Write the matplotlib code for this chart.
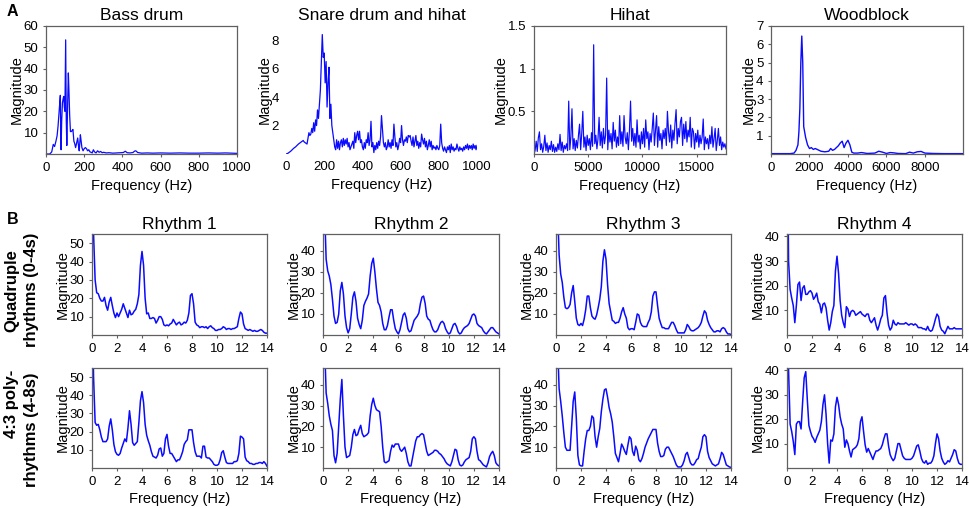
"""Spectra of the drum sounds (A) and of the four rhythms (B)."""

import matplotlib

matplotlib.use("Agg")
import matplotlib.pyplot as plt
import numpy as np

plt.rcParams["font.family"] = ["Liberation Sans", "DejaVu Sans"]

# ---------------------------------------------------------------- panel A data
bass_freq = [0, 20, 30, 38, 45, 52, 58, 63, 68, 72,
             75, 77, 79, 82, 86, 90, 93, 96, 99, 103,
             106, 109, 113, 117, 120, 124, 128, 132, 137, 141,
             146, 150, 155, 160, 166, 170, 174, 180, 184, 188,
             194, 200, 206, 212, 218, 224, 230, 236, 242, 248,
             254, 262, 270, 278, 286, 294, 302, 315, 330, 350,
             370, 390, 405, 415, 425, 440, 455, 465, 470, 480,
             500, 530, 560, 600, 650, 700, 750, 800, 850, 900,
             940, 1000]
bass_mag = [0, 0, 1, 4.5, 3.5, 6, 8.5, 13, 19, 24,
            27.5, 12, 2, 15, 24, 26, 27, 22, 20, 53.5,
            16, 4, 22, 38, 30, 18, 10.5, 10.5, 11, 11.5,
            6, 5, 3, 5, 7.5, 4, 1.5, 9, 6, 3,
            1.5, 2.5, 3, 2.5, 1.5, 2, 1, 0.8, 0.5, 2,
            1, 0.5, 1.5, 0.8, 1.2, 0.6, 0.8, 0.5, 0.6, 0.4,
            0.5, 0.6, 0.7, 1.3, 0.6, 0.5, 0.7, 1.4, 1.5, 0.7,
            0.4, 0.5, 0.4, 0.5, 0.4, 0.5, 0.4, 0.4, 0.5, 0.4,
            0.5, 0.3]

# snare drum and hihat, 5 Hz bins from 0 to 1000 Hz
snare_mag = [0, 0.02, 0.05, 0.1, 0.15, 0.2, 0.27, 0.33, 0.4, 0.45,
             0.5, 0.57, 0.63, 0.7, 0.75, 0.8, 0.85, 0.9, 0.95, 0.85,
             0.8, 0.75, 0.7, 1.1, 1.5, 1.3, 1.4, 1.8, 1.5, 2.2,
             1.6, 2.4, 2.0, 3.1, 2.5, 3.5, 4.5, 6.5, 8.4, 6.8,
             7.1, 5.0, 6.5, 3.3, 5.0, 6.1, 2.5, 3.5, 2.0, 1.5,
             1.0, 0.5, 0.3, 1.0, 0.4, 0.9, 0.3, 0.8, 1.0, 0.5,
             1.1, 0.6, 1.0, 0.7, 1.1, 0.5, 0.8, 0.3, 0.5, 0.7,
             0.9, 0.4, 1.5, 0.8, 1.3, 1.6, 1.0, 1.6, 0.8, 1.0,
             0.5, 0.3, 0.8, 0.4, 1.0, 0.8, 1.5, 0.6, 1.0, 2.3,
             0.5, 0.8, 0.1, 0.6, 0.3, 0.8, 0.4, 0.9, 0.6, 1.2,
             2.7, 1.8, 0.8, 0.5, 0.8, 0.3, 0.5, 1.0, 0.5, 0.8,
             0.4, 1.0, 0.6, 2.1, 1.2, 0.5, 0.8, 0.3, 0.6, 1.1,
             0.8, 2.0, 1.0, 0.6, 1.0, 0.9, 1.2, 0.8, 1.3, 1.2,
             1.3, 0.9, 0.6, 1.2, 0.5, 0.9, 1.3, 0.6, 0.9, 0.4,
             0.8, 0.5, 1.4, 1.0, 0.7, 1.1, 0.5, 0.9, 0.3, 0.6,
             1.0, 0.5, 0.9, 0.3, 0.6, 0.4, 0.5, 0.3, 0.6, 0.4,
             0.3, 0.6, 2.1, 0.8, 0.4, 0.2, 0.5, 0.3, 0.1, 0.5,
             0.3, 0.6, 0.1, 0.7, 0.3, 0.5, 0.2, 0.4, 0.3, 0.7,
             0.4, 0.2, 0.5, 0.3, 0.4, 0.2, 0.5, 0.3, 0.6, 0.4,
             0.7, 0.3, 0.6, 0.4, 0.6, 0.3, 0.7, 0.4, 0.6, 0.3,
             0.6]

# hihat, 100 Hz bins from 0 to 17700 Hz (one line per kHz)
hihat_mag = [0.00, 0.04, 0.15, 0.03, 0.19, 0.26, 0.05, 0.12, 0.02, 0.09,
             0.22, 0.04, 0.13, 0.02, 0.10, 0.05, 0.15, 0.03, 0.11, 0.02,
             0.08, 0.03, 0.12, 0.05, 0.23, 0.04, 0.14, 0.02, 0.10, 0.06,
             0.12, 0.04, 0.62, 0.05, 0.20, 0.53, 0.06, 0.18, 0.04, 0.16,
             0.07, 0.22, 0.35, 0.05, 0.24, 0.50, 0.08, 0.20, 0.04, 0.22,
             0.10, 0.18, 0.05, 0.25, 0.09, 1.28, 0.12, 0.22, 0.06, 0.18,
             0.43, 0.10, 0.26, 0.07, 0.30, 0.12, 0.22, 0.89, 0.05, 0.28,
             0.14, 0.24, 0.06, 0.37, 0.15, 0.28, 0.08, 0.20, 0.10, 0.45,
             0.12, 0.26, 0.09, 0.45, 0.20, 0.12, 0.25, 0.05, 0.28, 0.62,
             0.15, 0.30, 0.10, 0.24, 0.08, 0.40, 0.14, 0.22, 0.06, 0.26,
             0.12, 0.30, 0.08, 0.40, 0.18, 0.26, 0.05, 0.24, 0.14, 0.30,
             0.48, 0.10, 0.27, 0.45, 0.08, 0.32, 0.16, 0.24, 0.06, 0.28,
             0.18, 0.30, 0.10, 0.50, 0.26, 0.14, 0.34, 0.07, 0.28, 0.16,
             0.36, 0.52, 0.12, 0.30, 0.20, 0.38, 0.43, 0.10, 0.35, 0.18,
             0.38, 0.14, 0.28, 0.20, 0.43, 0.08, 0.30, 0.26, 0.06, 0.24,
             0.14, 0.28, 0.08, 0.22, 0.12, 0.20, 0.41, 0.05, 0.20, 0.12,
             0.18, 0.06, 0.22, 0.12, 0.32, 0.08, 0.18, 0.30, 0.04, 0.16,
             0.30, 0.10, 0.20, 0.05, 0.14, 0.08, 0.12, 0.06]

wood_freq = [0, 1000, 1200, 1300, 1400, 1450, 1500, 1550, 1600, 1650,
             1700, 1750, 1800, 1900, 2000, 2100, 2200, 2300, 2400, 2500,
             2600, 2800, 3000, 3100, 3200, 3300, 3400, 3500, 3600, 3700,
             3800, 3900, 4000, 4100, 4200, 4300, 4500, 4700, 5000, 5400,
             5600, 5800, 6000, 6200, 6400, 6600, 7000, 7200, 7400, 7600,
             7800, 8000, 8400, 9000, 10000]
wood_mag = [0.02, 0.02, 0.05, 0.2, 0.5, 1.2, 2.5, 5.0, 6.45, 5.0,
            1.5, 1.2, 0.9, 0.5, 0.3, 0.35, 0.25, 0.3, 0.25, 0.2,
            0.15, 0.12, 0.15, 0.3, 0.2, 0.25, 0.35, 0.45, 0.6, 0.7,
            0.35, 0.6, 0.75, 0.5, 0.1, 0.05, 0.05, 0.08, 0.03, 0.05,
            0.15, 0.1, 0.03, 0.08, 0.06, 0.03, 0.02, 0.1, 0.05, 0.12,
            0.14, 0.05, 0.03, 0.02, 0.02]

# ---------------------------------------------------------------- panel B data
# 0.125 Hz bins from 0 to 14 Hz (one line per Hz)
quad_r1 = [100, 55, 30, 23, 22.5, 20, 18.5, 18.5,
           20.5, 16, 13.5, 18, 20.5, 16, 12, 9.5,
           12, 10, 12, 14, 17, 14.5, 12, 9.5,
           13.5, 11, 11.5, 13, 14, 17, 22, 38,
           45.5, 38, 20, 11.5, 12, 9, 9, 9.5,
           9, 6.5, 8, 10, 10, 8.5, 5.5, 5,
           5.5, 5, 6, 6.5, 8.5, 7, 5.5, 6.5,
           7, 5.5, 6, 7, 6.5, 8, 12, 21.5,
           22.5, 17, 7, 5.5, 5, 4, 4.5, 4.5,
           4, 4.5, 3.5, 4.5, 5, 4, 3.5, 2.5,
           2.5, 3, 3, 3.5, 4.5, 4, 3, 3.5,
           3.5, 3, 3.5, 3.5, 4, 4.5, 9, 12.5,
           11.5, 6, 3.5, 3, 2.5, 3, 2.5, 2,
           2.5, 2, 2, 2.5, 3, 2.5, 1.5, 1,
           1]
quad_r2 = [100, 60, 36, 30.5, 28, 24, 17, 9,
           5.5, 6, 10, 21, 25, 19.5, 9, 3.5,
           1, 3, 10, 18, 20.5, 16, 8, 5,
           3, 7, 14, 16, 17.5, 19.5, 28, 34,
           36.5, 30, 22, 15.5, 14, 11, 5.5, 2.5,
           2.5, 4.5, 8.5, 12, 12, 7, 3, 1.5,
           0.5, 2.5, 6, 9.5, 10.5, 8, 3, 1.5,
           2, 4.5, 7, 8, 9, 10.5, 15, 18,
           18.5, 15, 9, 7.5, 7, 4.5, 2.5, 1.5,
           1.5, 2.5, 4.5, 6, 6.5, 5.5, 3, 1.5,
           0.5, 1, 3, 5, 5.5, 4, 1.5, 0.5,
           1, 2.5, 3.5, 4, 4.5, 5.5, 7.5, 9.5,
           10, 9, 5.5, 4.5, 4, 3.5, 2, 1,
           0.5, 1.5, 2.5, 3.5, 3.5, 2.5, 1.5, 1,
           0.5]
quad_r3 = [100, 60, 38, 29, 25, 18, 13, 12.5,
           13, 14.5, 20, 23.5, 16, 8, 5, 4.5,
           5.5, 4.5, 7.5, 12, 18.5, 18.5, 13, 9,
           8, 7.5, 9.5, 13, 17, 23, 35, 40.5,
           36, 24, 15, 11, 7, 6.5, 5.5, 6,
           6, 8, 11, 13, 10, 8, 3.5, 2.5,
           3, 3, 2.5, 6, 10, 9.5, 6, 4.5,
           4, 4, 4, 6, 7.5, 11, 18.5, 20.5,
           20.5, 14, 8, 5.5, 3.5, 3.5, 3, 3,
           3, 4.5, 6, 6, 4.5, 2.5, 1, 1,
           1, 1, 1, 2.5, 5, 4, 2.5, 2,
           2, 2.5, 3, 3.5, 4.5, 6, 9, 11.5,
           10.5, 7, 5, 3.5, 2.5, 1.5, 1.5, 2,
           2, 1.5, 3, 3.5, 3, 1.5, 0.5, 0.5,
           0.3]
quad_r4 = [100, 30, 18.5, 15, 12, 5, 12, 20.5,
           21.5, 14, 19, 20, 16.5, 16.5, 17.5, 18,
           17, 14.5, 15.5, 17, 13.5, 12.5, 9, 12.5,
           13, 11, 6, 2, 5, 9.5, 12, 26,
           32, 25, 14, 8, 5, 3, 11.5, 10.5,
           7.5, 9.5, 10, 9.5, 8, 8.5, 9, 9.5,
           8.5, 8, 7.5, 8.5, 8.5, 6, 5, 6,
           7, 4, 2, 4, 6.5, 8, 15, 16,
           9, 4, 2, 3, 6, 4.5, 4, 5,
           4.5, 4.5, 4.5, 4.5, 5, 4.5, 4, 4.5,
           4.5, 4, 4.5, 4, 3, 3, 3, 2.5,
           2.5, 2, 3.5, 2, 1.5, 2, 4, 6.5,
           8.5, 7.5, 3.5, 2, 1.5, 0.5, 2, 3.5,
           2.5, 2.5, 2.5, 3, 2.5, 2.5, 2.5, 2.5,
           2.5]

poly_r1 = [100, 50, 25, 23.5, 24, 21, 17, 14.5,
           14.5, 14.5, 16, 23, 27, 21, 13, 9,
           7.5, 7, 8, 11, 13.5, 16, 14.5, 22,
           31.5, 24, 14, 12.5, 13.5, 14.5, 25, 37,
           42, 36, 24, 18, 15, 12.5, 9, 6.5,
           6, 5.5, 7, 10.5, 11, 6.5, 8, 16,
           18.5, 12, 8, 8, 6.5, 5, 3.5, 4.5,
           4.5, 6.5, 9, 13, 14.5, 15.5, 21, 21,
           21, 14, 9, 6.5, 6.5, 6.5, 5.5, 12,
           12, 6, 5.5, 5.5, 4.5, 3.5, 2, 1.5,
           1.5, 2, 4.5, 8.5, 9.5, 6, 3, 2.5,
           2.5, 2.5, 2.5, 3.5, 3.5, 4, 8, 17.5,
           17, 16, 6, 4, 3.5, 2.5, 2.5, 2,
           2, 2.5, 2.5, 3, 3, 2.5, 3.5, 2.5,
           1]
poly_r2 = [100, 60, 36, 31, 25, 21, 18, 6,
           2.5, 7, 20, 33, 42.5, 25, 10, 5,
           5.5, 6, 10, 16, 18.5, 15.5, 16, 18.5,
           20.5, 16.5, 15, 15.5, 16, 17, 25, 30.5,
           33.5, 30, 28, 27.5, 27, 20, 10, 3,
           2.5, 3, 3.5, 8, 11, 10, 11.5, 11.5,
           11.5, 9, 8, 9, 10, 7, 3, 1,
           1, 5, 9, 13, 15, 15, 16, 16.5,
           16, 12, 8, 6, 6.5, 7, 7.5, 8.5,
           8.5, 8, 7, 6.5, 5.5, 4.5, 3, 2,
           1.5, 1, 3, 6, 9, 8.5, 4, 1.5,
           1, 1.5, 3, 4, 4.5, 5, 8, 14,
           15, 14, 8, 4, 3.5, 2.5, 1.5, 1,
           0.5, 2.5, 5.5, 7, 8, 6, 2.5, 1.5,
           1]
poly_r3 = [100, 60, 38, 32, 25, 17, 10, 8.5,
           8.5, 8.5, 20, 32, 36.5, 24, 6, 1.5,
           1, 1, 8, 14, 18, 18, 20, 25,
           24, 15, 10, 15, 19, 27, 33, 37.5,
           38, 34, 29, 26, 22, 15, 7, 5,
           3, 7, 11.5, 10, 8, 6.5, 11, 15,
           14, 8, 6, 10.5, 8.5, 4, 3, 4.5,
           7, 10, 12, 14, 15.5, 17, 18.5, 18.5,
           18.5, 12, 8, 5.5, 5.5, 6, 9, 10,
           10, 8.5, 7, 5.5, 3.5, 1.5, 0.5, 0.5,
           0.5, 1.5, 3.5, 6.5, 7.5, 5, 2.5, 1.5,
           1.5, 2.5, 4, 4.5, 7.5, 10, 15, 16,
           15, 8, 5, 3.5, 2, 1.5, 1, 1.5,
           2, 4.5, 7.5, 6.5, 4, 1.5, 1, 0.5,
           0.3]
poly_r4 = [100, 40, 18, 15, 11, 5.5, 18, 19,
           19, 16, 27, 37, 39.5, 28, 17.5, 15,
           13, 12, 10.5, 12.5, 14, 15.5, 19, 26,
           30, 22, 10, 2, 11.5, 11, 14, 25,
           29, 26, 21, 18, 16, 8.5, 11.5, 10,
           7, 4.5, 7.5, 8, 8.5, 9.5, 12, 19,
           21, 15, 9.5, 6.5, 8, 6.5, 5, 3.5,
           5.5, 7, 7, 7.5, 8, 9.5, 12, 14,
           14, 9, 5.5, 4, 3, 4, 7, 10,
           10, 7.5, 5, 4, 3.5, 3.5, 3.5, 3.5,
           4, 5, 7, 9, 9.5, 7, 4, 2.5,
           2, 3, 1.5, 2, 2, 3, 5, 10,
           14, 12, 7, 4, 2.5, 1.5, 2, 3,
           2.5, 4, 5.5, 7.5, 7, 4, 2, 1.5,
           1.5]

rhythm_titles = ["Rhythm 1", "Rhythm 2", "Rhythm 3", "Rhythm 4"]
quad_rows = [quad_r1, quad_r2, quad_r3, quad_r4]
poly_rows = [poly_r1, poly_r2, poly_r3, poly_r4]
rhythm_ylim = [55, 48, 48, 41]
rhythm_yticks = [[10, 20, 30, 40, 50], [10, 20, 30, 40], [10, 20, 30, 40], [10, 20, 30, 40]]

# ---------------------------------------------------------------- style
W, H = 970, 508
LINE = "#0a0aff"
SPINE = "#606060"
TICK_SIZE = 9.5
LABEL_SIZE = 10.5
TITLE_SIZE = 12.5


def px_axes(fig, left, top, right, bottom):
    """Axes placed by pixel box of the 970x508 canvas."""
    return fig.add_axes([left / W, 1 - bottom / H, (right - left) / W, (bottom - top) / H])


def style(ax, frame=True):
    for s in ax.spines.values():
        s.set_visible(frame)
        s.set_color(SPINE)
        s.set_linewidth(0.9)
    ax.tick_params(length=2.5 if frame else 0, width=0.8, color=SPINE,
                   labelsize=TICK_SIZE, pad=3 if frame else 5)
    ax.set_ylabel("Magnitude", fontsize=LABEL_SIZE, labelpad=0)


def main():
    fig = plt.figure(figsize=(W / 100, H / 100), dpi=100)

    # ---- A: instrument spectra
    ax = px_axes(fig, 46, 26, 237, 154)
    ax.plot(bass_freq, bass_mag, color=LINE, lw=0.9)
    ax.set_xlim(0, 1000)
    ax.set_ylim(0, 60)
    ax.set_xticks([0, 200, 400, 600, 800, 1000])
    ax.set_yticks([10, 20, 30, 40, 50, 60])
    ax.set_title("Bass drum", fontsize=TITLE_SIZE, pad=4)
    style(ax)
    ax.set_xlabel("Frequency (Hz)", fontsize=LABEL_SIZE, labelpad=4)

    ax = px_axes(fig, 286, 26, 477, 154)
    ax.plot(np.arange(len(snare_mag)) * 5, snare_mag, color=LINE, lw=0.9)
    ax.set_xlim(0, 1000)
    ax.set_ylim(0, 9)
    ax.set_xticks([0, 200, 400, 600, 800, 1000])
    ax.set_yticks([2, 4, 6, 8])
    ax.set_title("Snare drum and hihat", fontsize=TITLE_SIZE, pad=4)
    style(ax, frame=False)
    ax.set_xlabel("Frequency (Hz)", fontsize=LABEL_SIZE, labelpad=4)

    ax = px_axes(fig, 534, 26, 726, 154)
    ax.plot(np.arange(len(hihat_mag)) * 100, hihat_mag, color=LINE, lw=0.85)
    ax.set_xlim(0, 17700)
    ax.set_ylim(0, 1.5)
    ax.set_xticks([0, 5000, 10000, 15000])
    ax.set_yticks([0.5, 1, 1.5])
    ax.set_yticklabels(["0.5", "1", "1.5"])
    ax.set_title("Hihat", fontsize=TITLE_SIZE, pad=4)
    style(ax)
    ax.set_xlabel("Frequency (Hz)", fontsize=LABEL_SIZE, labelpad=4)

    ax = px_axes(fig, 771, 26, 963, 154)
    ax.plot(wood_freq, wood_mag, color=LINE, lw=1.0)
    ax.set_xlim(0, 9980)
    ax.set_ylim(0, 7)
    ax.set_xticks([0, 2000, 4000, 6000, 8000])
    ax.set_yticks([1, 2, 3, 4, 5, 6, 7])
    ax.set_title("Woodblock", fontsize=TITLE_SIZE, pad=4)
    style(ax)
    ax.set_xlabel("Frequency (Hz)", fontsize=LABEL_SIZE, labelpad=4)

    # ---- B: rhythm spectra
    freq = np.arange(len(quad_r1)) * 0.125
    col_px = [(92, 267), (323, 499), (556, 731), (787, 962)]
    row_px = [(234, 335), (368, 468)]
    for c, (left, right) in enumerate(col_px):
        for r, data in enumerate([quad_rows[c], poly_rows[c]]):
            top, bottom = row_px[r]
            ax = px_axes(fig, left, top, right, bottom)
            ax.plot(freq, data, color=LINE, lw=1.1)
            ax.set_xlim(0, 14)
            ax.set_ylim(0, rhythm_ylim[c])
            ax.set_xticks(range(0, 15, 2))
            ax.set_yticks(rhythm_yticks[c])
            style(ax)
            if r == 0:
                ax.set_title(rhythm_titles[c], fontsize=TITLE_SIZE, pad=3.5)
            else:
                ax.set_xlabel("Frequency (Hz)", fontsize=LABEL_SIZE, labelpad=3)

    # ---- panel letters and row labels
    fig.text(7 / W, 1 - 11 / H, "A", fontsize=11.5, fontweight="bold", ha="left", va="center")
    fig.text(7 / W, 1 - 219 / H, "B", fontsize=11.5, fontweight="bold", ha="left", va="center")
    row_kw = dict(rotation=90, ha="center", va="center", fontsize=12, fontweight="bold")
    fig.text(12 / W, 1 - 291 / H, "Quadruple", **row_kw)
    fig.text(32 / W, 1 - 290 / H, "rhythms (0-4s)", **row_kw)
    fig.text(12 / W, 1 - 404 / H, "4:3 poly-", **row_kw)
    fig.text(32 / W, 1 - 430 / H, "rhythms (4-8s)", **row_kw)

    fig.savefig("out.png", dpi=100)
    plt.close(fig)


if __name__ == "__main__":
    main()
